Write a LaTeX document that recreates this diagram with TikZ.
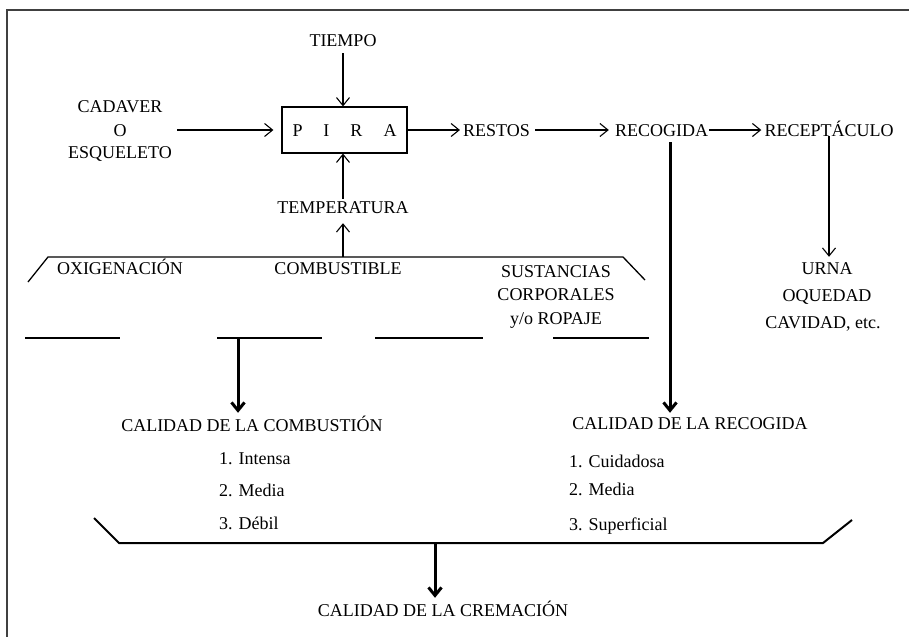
\documentclass[tikz,border=0pt]{standalone}
\usepackage{fontspec}
\setmainfont{Liberation Serif}
\usetikzlibrary{arrows.meta}
\begin{document}
\begin{tikzpicture}[x=1pt,y=-1pt,
  lbl/.style={inner sep=0pt, text height=12pt, text depth=0pt, font=\fontsize{18}{23}\selectfont},
  arr/.style={line width=1.1pt, -{Straight Barb[length=8pt,width=13pt]}},
  bigarr/.style={line width=3pt, -{Straight Barb[length=8pt,width=13pt]}},
  brk/.style={line width=1.3pt},
  bbrk/.style={line width=2pt},
  frame/.style={line width=1.2pt, black!75}
]
\useasboundingbox (0,0) rectangle (909,637);
% frame
\draw[frame] (909,10) -- (7,10) -- (7,637);

% nodes
\node[lbl] (tiempo) at (343,40) {TIEMPO};
\node[lbl, draw, line width=1.2pt, minimum width=125pt, minimum height=46pt] (pira) at (344.5,130) {P\hspace{21pt}I\hspace{21pt}R\hspace{21pt}A};
\node[lbl] (cad1) at (120,106) {CADAVER};
\node[lbl] (cad2) at (120,130) {O};
\node[lbl] (cad3) at (120,152) {ESQUELETO};
\node[lbl] (temp) at (343,207) {TEMPERATURA};
\node[lbl] (restos) at (496.5,130) {RESTOS};
\node[lbl] (recog) at (661.5,130) {RECOGIDA};
\node[lbl] (recep) at (829,130) {RECEPTÁCULO};
\node[lbl] (urna) at (827,268) {URNA};
\node[lbl] (oqu) at (827,295) {OQUEDAD};
\node[lbl] (cav) at (823,322) {CAVIDAD, etc.};
\node[lbl] (oxi) at (120,268) {OXIGENACIÓN};
\node[lbl] (comb) at (338,268) {COMBUSTIBLE};
\node[lbl] (sus1) at (556,271) {SUSTANCIAS};
\node[lbl] (sus2) at (556,294) {CORPORALES};
\node[lbl] (sus3) at (556,318) {y/o ROPAJE};
\node[lbl] (calcomb) at (252,425) {CALIDAD DE LA COMBUSTIÓN};
\node[lbl, anchor=west] (c1) at (219,458) {1. Intensa};
\node[lbl, anchor=west] (c2) at (219,490) {2. Media};
\node[lbl, anchor=west] (c3) at (219,523) {3. Débil};
\node[lbl] (calrec) at (690,423) {CALIDAD DE LA RECOGIDA};
\node[lbl, anchor=west] (r1) at (569,461) {1. Cuidadosa};
\node[lbl, anchor=west] (r2) at (569,489) {2. Media};
\node[lbl, anchor=west] (r3) at (569,524) {3. Superficial};
\node[lbl] (calcrem) at (443,610) {CALIDAD DE LA CREMACIÓN};

% coordinates
\coordinate (tl1) at (28,282);
\coordinate (tl2) at (48,257);
\coordinate (tl3) at (623,257);
\coordinate (tl4) at (645,280);
\coordinate (tm) at (343,257);
\coordinate (s1a) at (25,338);  \coordinate (s1b) at (120,338);
\coordinate (s2a) at (217,338); \coordinate (s2b) at (322,338);
\coordinate (s3a) at (375,338); \coordinate (s3b) at (483,338);
\coordinate (s4a) at (553,338); \coordinate (s4b) at (649,338);
\coordinate (s2m) at (238,338);
\coordinate (bb1) at (94,518);
\coordinate (bb2) at (119,543);
\coordinate (bb3) at (823,543);
\coordinate (bb4) at (852,520);
\coordinate (bbm) at (435,543);

% brackets
\draw[brk] (tl1) -- (tl2) -- (tl3) -- (tl4);
\draw[brk] (s1a) -- (s1b);
\draw[brk] (s2a) -- (s2b);
\draw[brk] (s3a) -- (s3b);
\draw[brk] (s4a) -- (s4b);
\draw[bbrk] (bb1) -- (bb2) -- (bb3) -- (bb4);

% connectors
\draw[arr, shorten <=7pt] (tiempo.south) -- (tiempo.south |- pira.north);
\draw[arr, shorten <=2pt] (temp.north) -- (temp.north |- pira.south);
\draw[arr, shorten >=10pt] (tm) -- (tm |- temp.south);
\draw[arr, shorten <=5pt, shorten >=8pt] (cad3.east |- pira.west) -- (pira.west);
\draw[arr, shorten >=3pt] (pira.east) -- (restos.west);
\draw[arr, shorten <=5pt, shorten >=6pt] (restos.east) -- (recog.west);
\draw[arr, shorten <=1pt, shorten >=3pt] (recog.east) -- (recep.west);
\draw[arr, shorten >=5pt] (recep.south) -- (recep.south |- urna.north);
\draw[bigarr, shorten <=6pt, shorten >=4pt] ([xshift=8.5pt]recog.south) -- ([xshift=8.5pt]recog.south |- calrec.north);
\draw[bigarr, shorten >=6pt] (s2m) -- (s2m |- calcomb.north);
\draw[bigarr, shorten >=6pt] (bbm) -- (bbm |- calcrem.north);
\end{tikzpicture}
\end{document}
